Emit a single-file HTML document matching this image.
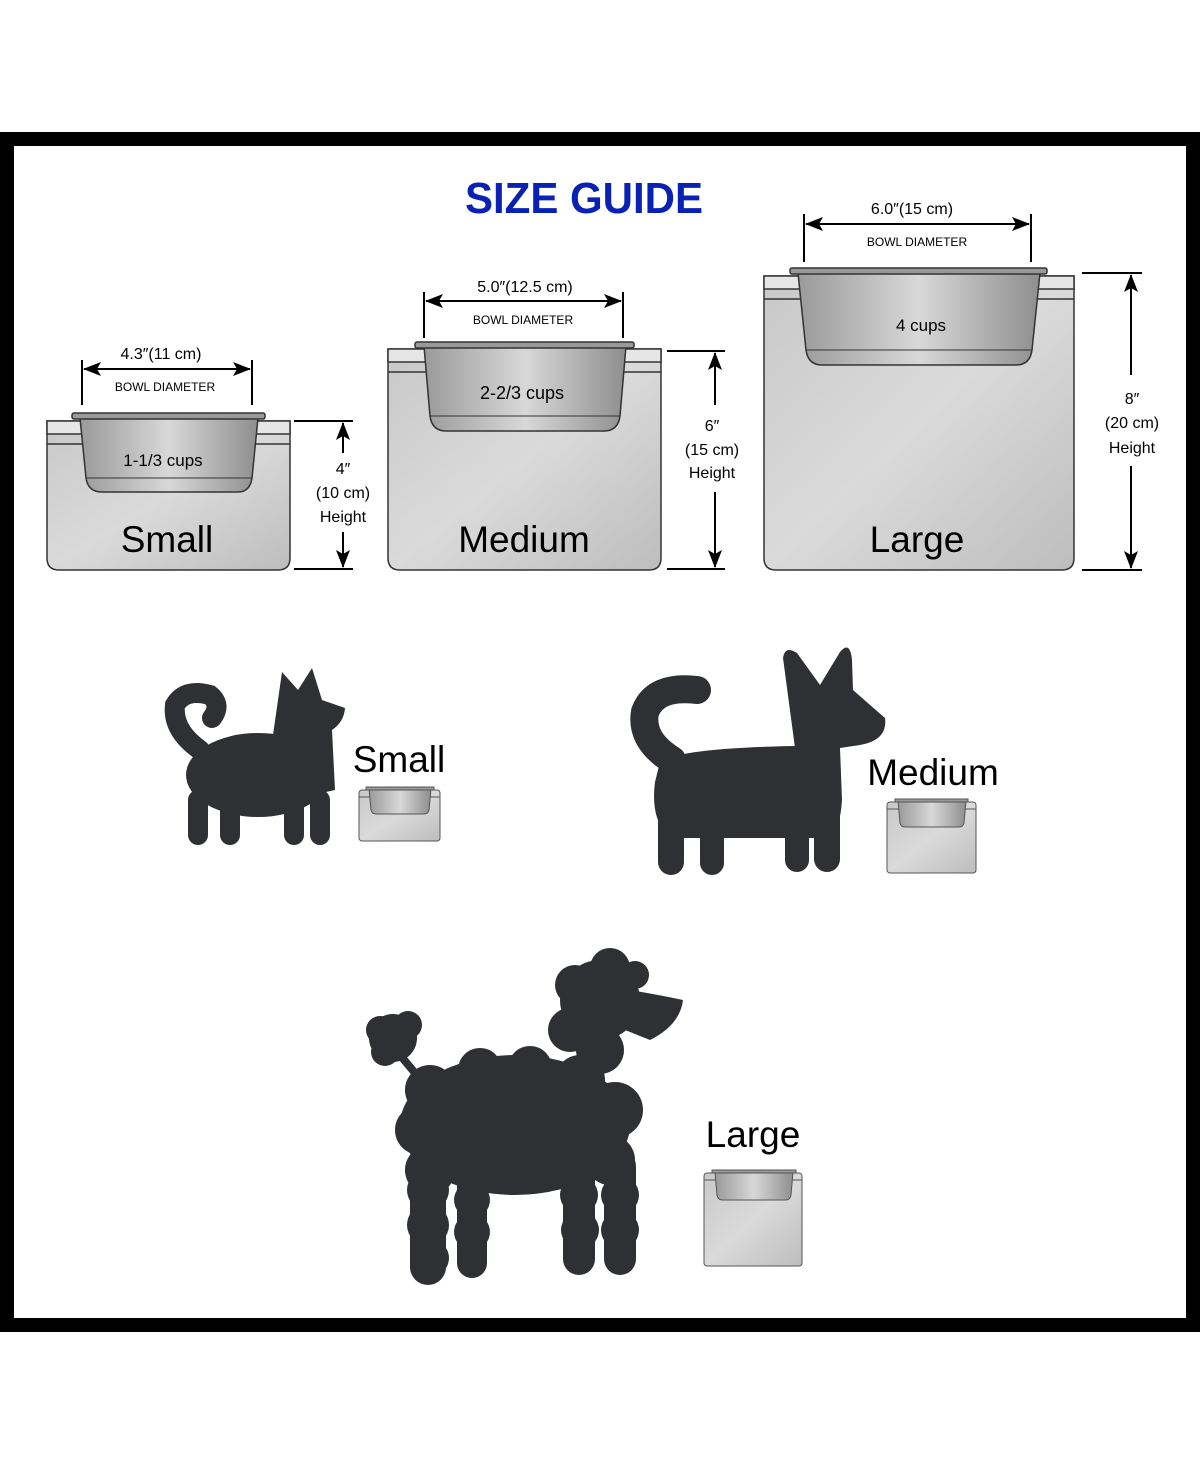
<!DOCTYPE html>
<html><head><meta charset="utf-8"><style>
html,body{margin:0;padding:0;background:#fff}
svg{display:block}
text{font-family:"Liberation Sans",sans-serif}
</style></head><body>
<svg width="1200" height="1465" viewBox="0 0 1200 1465" xmlns="http://www.w3.org/2000/svg">
<defs>
<linearGradient id="st" x1="0" y1="0" x2="1" y2="1"><stop offset="0" stop-color="#c8c8c8"/><stop offset="0.5" stop-color="#dadada"/><stop offset="1" stop-color="#bdbdbd"/></linearGradient>
<linearGradient id="bw" x1="0" y1="0" x2="1" y2="0"><stop offset="0" stop-color="#9a9a9a"/><stop offset="0.5" stop-color="#d8d8d8"/><stop offset="1" stop-color="#8e8e8e"/></linearGradient>
<marker id="ar" markerWidth="18" markerHeight="14" refX="17" refY="7" orient="auto-start-reverse" markerUnits="userSpaceOnUse"><path d="M0,0 L18,7 L0,14 L4,7 Z" fill="#000"/></marker>
</defs>
<rect x="0" y="132" width="1200" height="1200" fill="#000"/>
<rect x="14" y="146" width="1172" height="1172" fill="#fff"/>
<text x="465" y="213" textLength="238" lengthAdjust="spacingAndGlyphs" font-size="44" font-weight="bold" fill="#0a22b4">SIZE GUIDE</text>

<!-- Small stand -->
<g stroke="#333" stroke-width="1.5">
<path d="M47,421 H290 V558 Q290,570 278,570 H59 Q47,570 47,558 Z" fill="url(#st)"/>
<rect x="47" y="421" width="243" height="13" fill="#e6e6e6"/>
<line x1="47" y1="444" x2="290" y2="444"/>
<path d="M80,418 L86,478 Q88,492 102,492 H238 Q250,492 252,478 L258,418 Z" fill="url(#bw)"/>
<line x1="86" y1="478" x2="252" y2="478" stroke-width="1"/>
<rect x="72" y="413" width="193" height="6" rx="2" fill="#999"/>
</g>
<text x="163" y="466" text-anchor="middle" font-size="17">1-1/3 cups</text>
<text x="167" y="552" text-anchor="middle" font-size="37">Small</text>
<line x1="82" y1="360" x2="82" y2="405" stroke="#000" stroke-width="2"/>
<line x1="252" y1="360" x2="252" y2="405" stroke="#000" stroke-width="2"/>
<line x1="84" y1="369" x2="250" y2="369" stroke="#000" stroke-width="2" marker-start="url(#ar)" marker-end="url(#ar)"/>
<text x="161" y="359" text-anchor="middle" font-size="16">4.3″(11 cm)</text>
<text x="165" y="391" text-anchor="middle" font-size="12">BOWL DIAMETER</text>
<line x1="294" y1="421" x2="353" y2="421" stroke="#000" stroke-width="2"/>
<line x1="294" y1="569" x2="353" y2="569" stroke="#000" stroke-width="2"/>
<line x1="343" y1="453" x2="343" y2="423" stroke="#000" stroke-width="2" marker-end="url(#ar)"/>
<line x1="343" y1="532" x2="343" y2="567" stroke="#000" stroke-width="2" marker-end="url(#ar)"/>
<text x="343" y="474" text-anchor="middle" font-size="16">4″</text>
<text x="343" y="498" text-anchor="middle" font-size="16">(10 cm)</text>
<text x="343" y="522" text-anchor="middle" font-size="16">Height</text>

<!-- Medium stand -->
<g stroke="#333" stroke-width="1.5">
<path d="M388,349 H661 V558 Q661,570 649,570 H400 Q388,570 388,558 Z" fill="url(#st)"/>
<rect x="388" y="349" width="273" height="13" fill="#e6e6e6"/>
<line x1="388" y1="372" x2="661" y2="372"/>
<path d="M424,346 L430,416 Q432,431 446,431 H604 Q618,431 620,416 L626,346 Z" fill="url(#bw)"/>
<line x1="430" y1="416" x2="620" y2="416" stroke-width="1"/>
<rect x="415" y="342" width="219" height="6" rx="2" fill="#999"/>
</g>
<text x="522" y="399" text-anchor="middle" font-size="18">2-2/3 cups</text>
<text x="524" y="552" text-anchor="middle" font-size="37">Medium</text>
<line x1="424" y1="292" x2="424" y2="338" stroke="#000" stroke-width="2"/>
<line x1="623" y1="292" x2="623" y2="338" stroke="#000" stroke-width="2"/>
<line x1="426" y1="301" x2="621" y2="301" stroke="#000" stroke-width="2" marker-start="url(#ar)" marker-end="url(#ar)"/>
<text x="525" y="292" text-anchor="middle" font-size="16">5.0″(12.5 cm)</text>
<text x="523" y="324" text-anchor="middle" font-size="12">BOWL DIAMETER</text>
<line x1="667" y1="351" x2="725" y2="351" stroke="#000" stroke-width="2"/>
<line x1="667" y1="569" x2="725" y2="569" stroke="#000" stroke-width="2"/>
<line x1="715" y1="405" x2="715" y2="353" stroke="#000" stroke-width="2" marker-end="url(#ar)"/>
<line x1="715" y1="492" x2="715" y2="567" stroke="#000" stroke-width="2" marker-end="url(#ar)"/>
<text x="712" y="431" text-anchor="middle" font-size="16">6″</text>
<text x="712" y="455" text-anchor="middle" font-size="16">(15 cm)</text>
<text x="712" y="478" text-anchor="middle" font-size="16">Height</text>

<!-- Large stand -->
<g stroke="#333" stroke-width="1.5">
<path d="M764,276 H1074 V558 Q1074,570 1062,570 H776 Q764,570 764,558 Z" fill="url(#st)"/>
<rect x="764" y="276" width="310" height="13" fill="#e6e6e6"/>
<line x1="764" y1="299" x2="1074" y2="299"/>
<path d="M798,273 L806,350 Q808,365 822,365 H1016 Q1030,365 1032,350 L1040,273 Z" fill="url(#bw)"/>
<line x1="806" y1="350" x2="1032" y2="350" stroke-width="1"/>
<rect x="790" y="268" width="257" height="6" rx="2" fill="#999"/>
</g>
<text x="921" y="331" text-anchor="middle" font-size="17">4 cups</text>
<text x="917" y="552" text-anchor="middle" font-size="37">Large</text>
<line x1="804" y1="214" x2="804" y2="262" stroke="#000" stroke-width="2"/>
<line x1="1031" y1="214" x2="1031" y2="262" stroke="#000" stroke-width="2"/>
<line x1="806" y1="224" x2="1029" y2="224" stroke="#000" stroke-width="2" marker-start="url(#ar)" marker-end="url(#ar)"/>
<text x="912" y="214" text-anchor="middle" font-size="16">6.0″(15 cm)</text>
<text x="917" y="246" text-anchor="middle" font-size="12">BOWL DIAMETER</text>
<line x1="1082" y1="273" x2="1142" y2="273" stroke="#000" stroke-width="2"/>
<line x1="1082" y1="570" x2="1142" y2="570" stroke="#000" stroke-width="2"/>
<line x1="1131" y1="375" x2="1131" y2="275" stroke="#000" stroke-width="2" marker-end="url(#ar)"/>
<line x1="1131" y1="466" x2="1131" y2="568" stroke="#000" stroke-width="2" marker-end="url(#ar)"/>
<text x="1132" y="404" text-anchor="middle" font-size="16">8″</text>
<text x="1132" y="428" text-anchor="middle" font-size="16">(20 cm)</text>
<text x="1132" y="453" text-anchor="middle" font-size="16">Height</text>

<!-- small thumbnails -->
<g stroke="#555" stroke-width="1">
<rect x="359" y="790" width="81" height="51" rx="3" fill="url(#st)"/>
<line x1="359" y1="797" x2="440" y2="797"/>
<path d="M369,789 L371,810 Q372,814 376,814 H424 Q428,814 429,810 L431,789 Z" fill="url(#bw)"/>
<rect x="366" y="787" width="68" height="3" fill="#999"/>

<rect x="887" y="802" width="89" height="71" rx="3" fill="url(#st)"/>
<line x1="887" y1="809" x2="976" y2="809"/>
<path d="M898,801 L900,823 Q901,827 905,827 H959 Q963,827 964,823 L966,801 Z" fill="url(#bw)"/>
<rect x="895" y="799" width="73" height="3" fill="#999"/>

<rect x="704" y="1173" width="98" height="93" rx="3" fill="url(#st)"/>
<line x1="704" y1="1180" x2="802" y2="1180"/>
<path d="M715,1172 L717,1195 Q718,1200 722,1200 H786 Q790,1200 791,1195 L793,1172 Z" fill="url(#bw)"/>
<rect x="712" y="1170" width="84" height="3" fill="#999"/>
</g>
<text x="399" y="772" text-anchor="middle" font-size="37">Small</text>
<text x="933" y="785" text-anchor="middle" font-size="37">Medium</text>
<text x="753" y="1147" text-anchor="middle" font-size="37">Large</text>

<!-- Small dog -->
<g fill="#2f3033" stroke="#2f3033" stroke-linecap="round">
<path d="M200,750 Q172,730 175,705 Q185,688 210,695 Q222,705 212,718" fill="none" stroke-width="20"/>
<ellipse cx="258" cy="775" rx="72" ry="42" stroke="none"/>
<path d="M272,742 L282,672 L298,690 L312,668 L322,700 L345,708 Q344,722 332,730 L335,790 L290,800 Z" stroke="none"/>
<rect x="188" y="790" width="20" height="55" rx="10" stroke="none"/>
<rect x="220" y="800" width="20" height="45" rx="10" stroke="none"/>
<rect x="284" y="795" width="20" height="50" rx="10" stroke="none"/>
<rect x="310" y="790" width="20" height="55" rx="10" stroke="none"/>
</g>

<!-- Medium dog -->
<g fill="#2f3033" stroke="#2f3033" stroke-linecap="round">
<path d="M672,760 Q640,740 645,712 Q655,685 697,690" fill="none" stroke-width="28"/>
<path d="M660,762 Q680,748 795,746 L840,748 L842,800 Q840,830 830,838 L670,838 Q650,820 655,782 Z" stroke="none"/>
<path d="M795,748 L783,658 Q785,645 797,653 L820,685 L840,652 Q850,640 852,660 L853,690 Q870,705 885,718 Q888,740 860,745 L840,748 Z" stroke="none"/>
<rect x="658" y="790" width="26" height="85" rx="13" stroke="none"/>
<rect x="700" y="820" width="24" height="55" rx="12" stroke="none"/>
<rect x="785" y="820" width="24" height="52" rx="12" stroke="none"/>
<rect x="814" y="790" width="26" height="82" rx="13" stroke="none"/>
</g>

<!-- Poodle -->
<g fill="#2f3033" stroke="none">
<circle cx="393" cy="1038" r="24"/><circle cx="380" cy="1030" r="14"/><circle cx="408" cy="1025" r="14"/><circle cx="385" cy="1052" r="14"/>
<path d="M400,1055 L425,1085" stroke="#2f3033" stroke-width="8"/>
<ellipse cx="515" cy="1125" rx="115" ry="70"/>
<circle cx="430" cy="1090" r="25"/><circle cx="420" cy="1130" r="25"/><circle cx="430" cy="1170" r="25"/>
<circle cx="480" cy="1070" r="22"/><circle cx="530" cy="1068" r="22"/><circle cx="580" cy="1080" r="25"/><circle cx="615" cy="1110" r="28"/><circle cx="610" cy="1160" r="25"/>
<circle cx="600" cy="1000" r="40"/><circle cx="575" cy="985" r="20"/><circle cx="610" cy="968" r="20"/><circle cx="635" cy="975" r="14"/>
<circle cx="570" cy="1030" r="22"/><circle cx="600" cy="1050" r="24"/>
<path d="M630,990 Q660,995 683,1000 Q680,1025 650,1040 L625,1030 Z"/>
<rect x="410" y="1150" width="36" height="135" rx="18"/>
<circle cx="428" cy="1190" r="21"/><circle cx="428" cy="1225" r="21"/><circle cx="430" cy="1258" r="19"/>
<rect x="457" y="1160" width="30" height="118" rx="15"/>
<circle cx="472" cy="1200" r="18"/><circle cx="472" cy="1232" r="18"/>
<rect x="563" y="1150" width="32" height="125" rx="16"/>
<circle cx="579" cy="1195" r="19"/><circle cx="580" cy="1230" r="19"/>
<rect x="604" y="1150" width="32" height="125" rx="16"/>
<circle cx="620" cy="1195" r="19"/><circle cx="620" cy="1230" r="19"/>
</g>
</svg>
</body></html>
